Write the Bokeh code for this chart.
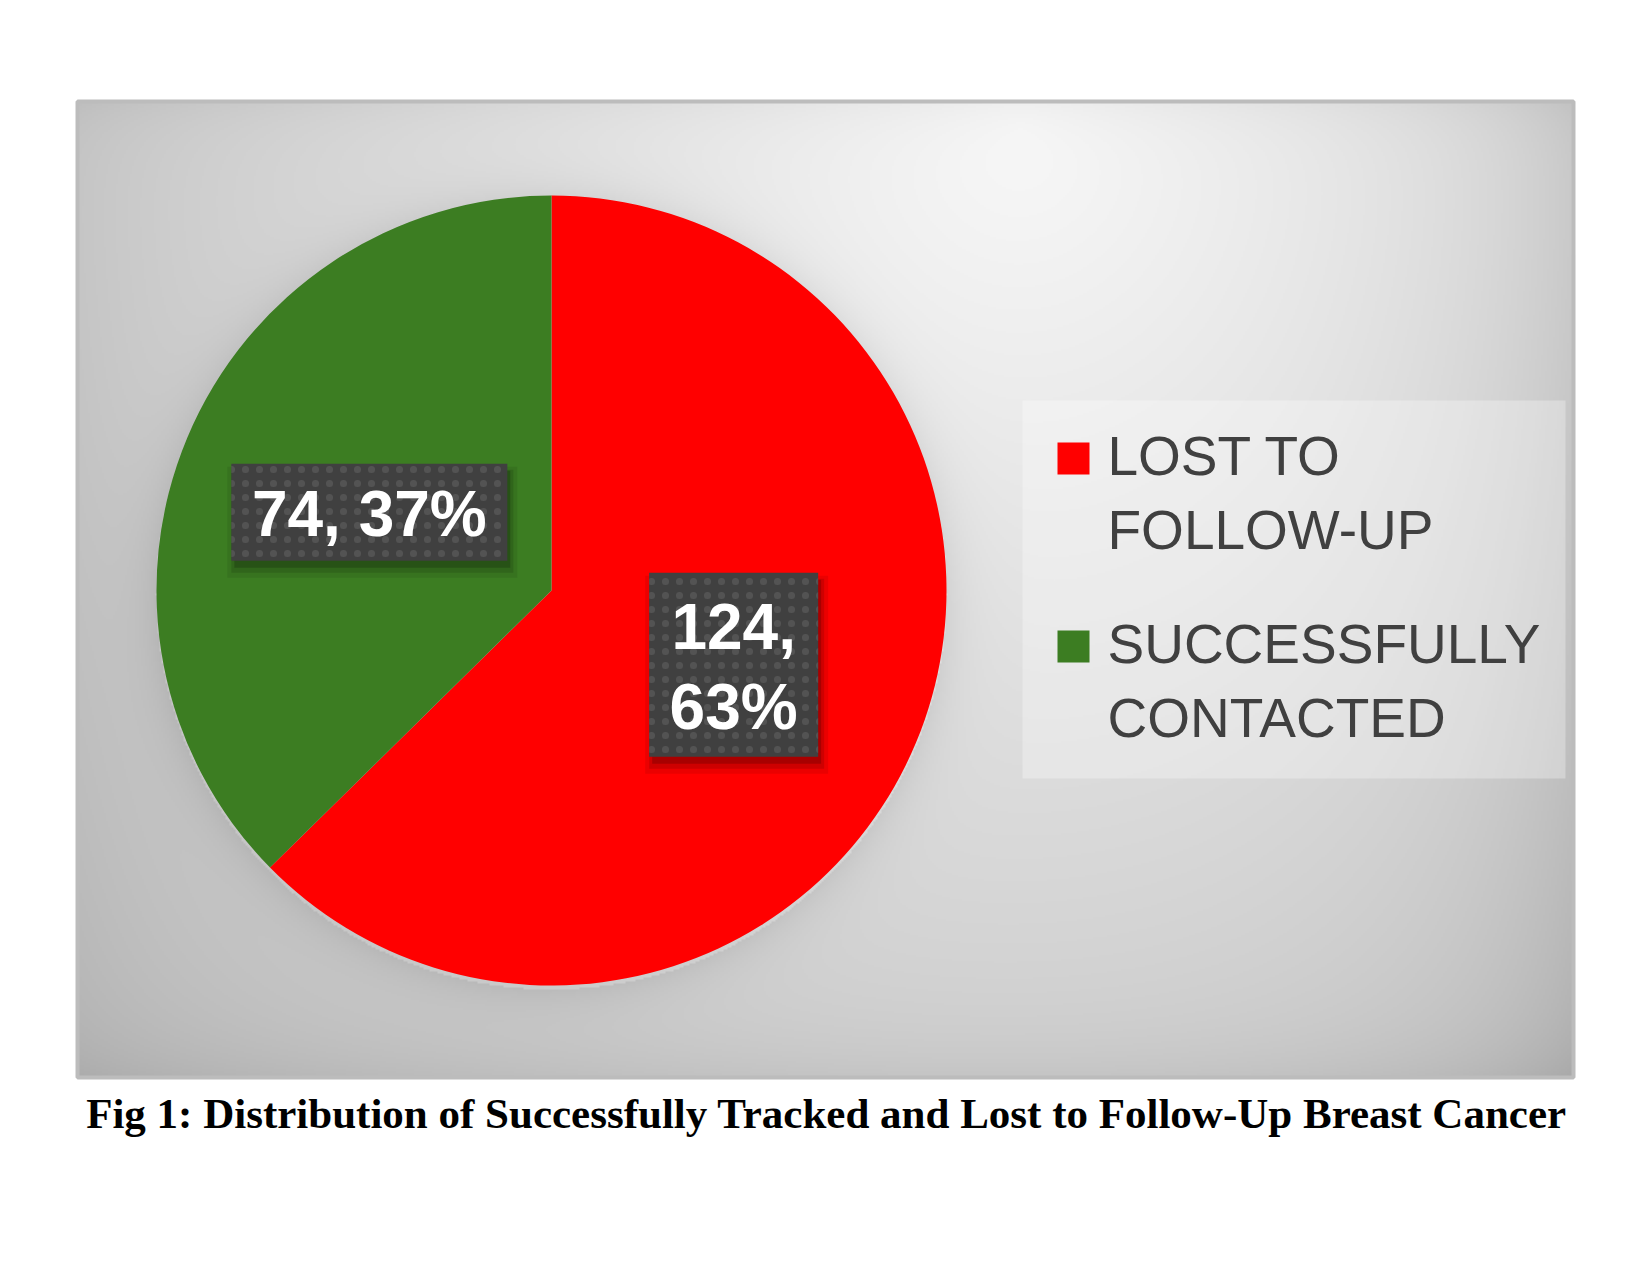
import textwrap
import numpy as np
from bokeh.plotting import figure
from bokeh.models import Range1d
from bokeh.core.properties import value
from bokeh.embed import file_html
from bokeh.resources import INLINE

# ---------------- data ----------------
categories = ["LOST TO FOLLOW-UP", "SUCCESSFULLY CONTACTED"]
counts = [124, 74]
colors = ["#FF0000", "#3C7D22"]
caption = "Fig 1: Distribution of Successfully Tracked and Lost to Follow-Up Breast Cancer"

# ---------------- layout (page pixels) ----------------
W, H = 1634, 1258
def X(px):
    return px
def Y(py):
    return H - py

BX0, BX1, BY0, BY1 = 77, 1573, 101, 1077      # grey chart area
CX, CY, R = 551, 590, 395                      # pie centre / radius
label_wrap = [5, 12]
label_box = [(169, 184), (276, 97)]
LAB_SIZE, LAB_CAP, LAB_GAP, LAB_UP = 64, 46, 80, 21
LEG_X0, LEG_X1, LEG_Y0, LEG_Y1 = 1022, 1565, 400, 778
LEG_SQ_X, LEG_SQ_Y0, LEG_SQ = 1073, 458, 32
LEG_TX, LEG_BASE0, LEG_ENTRY, LEG_LINE, LEG_UP = 1107, 477, 188, 74, 22
CAP_X, CAP_Y = 826, 1113

p = figure(width=W, height=H, x_range=Range1d(0, W), y_range=Range1d(0, H),
           output_backend="svg", toolbar_location=None, min_border=0,
           x_axis_type=None, y_axis_type=None)
p.grid.visible = False
p.outline_line_color = None
p.background_fill_color = "white"
p.border_fill_color = "white"

# ---------------- gradient background ----------------
cols, rows = 748, 488
gx = BX0 + (np.arange(cols) + 0.5) * (BX1 - BX0) / cols
gy = BY1 - (np.arange(rows) + 0.5) * (BY1 - BY0) / rows
GX, GY = np.meshgrid(gx, gy)
d = np.sqrt(((GX - 1020) / 1000) ** 2 + ((GY - 130) / 1100) ** 2)
L = 248 - 48 * d
L -= 20 * np.exp(-(BX1 - GX) / 110)
L -= 5 * np.exp(-(GX - BX0) / 90)
L -= 10 * np.exp(-(BY1 - GY) / 40)
L -= 8 * np.exp(-(GY - BY0) / 25)
rr = np.hypot(GX - CX, GY - (CY + 4))
L -= np.where(rr > R, 16 * np.exp(-(rr - R) / 22), 0)
L = np.clip(L, 0, 255).astype(np.uint8)
img = np.empty((rows, cols), dtype=np.uint32)
view = img.view(dtype=np.uint8).reshape((rows, cols, 4))
view[..., 0] = L
view[..., 1] = L
view[..., 2] = L
view[..., 3] = 255
p.image_rgba(image=[img], x=X(BX0), y=Y(BY1), dw=BX1 - BX0, dh=BY1 - BY0)
p.quad(left=X(BX0), right=X(BX1), top=Y(BY0), bottom=Y(BY1),
       fill_color=None, line_color="#bcbcbc", line_width=4)

# ---------------- pie ----------------
total = sum(counts)
fracs = [c / total for c in counts]
pcts = [round(100 * f) for f in fracs]
cum = np.concatenate([[0.0], np.cumsum(fracs)])
starts = [np.deg2rad(90 - 360 * cum[i + 1]) for i in range(len(counts))]
ends = [np.deg2rad(90 - 360 * cum[i]) for i in range(len(counts))]
p.wedge(x=[X(CX)] * len(counts), y=[Y(CY)] * len(counts), radius=R,
        start_angle=starts, end_angle=ends, fill_color=colors,
        line_color=None)

# ---------------- data labels ----------------
for i, (c, pc) in enumerate(zip(counts, pcts)):
    mid = (starts[i] + ends[i]) / 2
    lx = CX + 0.5 * R * np.cos(mid)
    ly = CY - 0.5 * R * np.sin(mid) - 2
    bw, bh = label_box[i]
    for off, grow, a in [(10, 14, 0.08), (9, 6, 0.12), (7, 0, 0.18)]:
        p.rect(x=[X(lx) + 3], y=[Y(ly) - off], width=bw + grow, height=bh + grow,
               fill_color="black", fill_alpha=a, line_color=None)
    p.rect(x=[X(lx)], y=[Y(ly)], width=bw, height=bh, fill_color="#404040",
           line_color=None, hatch_pattern="dot", hatch_color="#707070",
           hatch_scale=14, hatch_weight=1.5, hatch_alpha=0.4)
    lines = textwrap.wrap(f"{c}, {pc}%", label_wrap[i])
    n = len(lines)
    first = ly - (LAB_CAP + (n - 1) * LAB_GAP) / 2 + LAB_CAP - LAB_UP
    p.text(x=[X(lx)] * n, y=[Y(first + k * LAB_GAP) for k in range(n)], text=lines,
           text_font=value("Liberation Sans"), text_font_style="bold",
           text_font_size=f"{LAB_SIZE}px", text_color="white",
           text_align="center", text_baseline="alphabetic")

# ---------------- legend ----------------
p.quad(left=X(LEG_X0), right=X(LEG_X1), top=Y(LEG_Y0), bottom=Y(LEG_Y1),
       fill_color="white", fill_alpha=0.3, line_color=None)
for i, cat in enumerate(categories):
    p.rect(x=[X(LEG_SQ_X)], y=[Y(LEG_SQ_Y0 + i * LEG_ENTRY)], width=LEG_SQ, height=LEG_SQ,
           fill_color=colors[i], line_color=None)
    lines = textwrap.wrap(cat, 12)
    p.text(x=[X(LEG_TX)] * len(lines),
           y=[Y(LEG_BASE0 - LEG_UP + i * LEG_ENTRY + k * LEG_LINE) for k in range(len(lines))],
           text=lines, text_font=value("Liberation Sans"), text_font_size="55px",
           text_color="#404040", text_align="left", text_baseline="alphabetic")

# ---------------- caption ----------------
p.text(x=[X(CAP_X)], y=[Y(CAP_Y)], text=[caption],
       text_font=value("Liberation Serif"), text_font_style="bold",
       text_font_size="43px", text_color="black",
       text_align="center", text_baseline="alphabetic")

open("out.html", "w").write(file_html(p, INLINE))
